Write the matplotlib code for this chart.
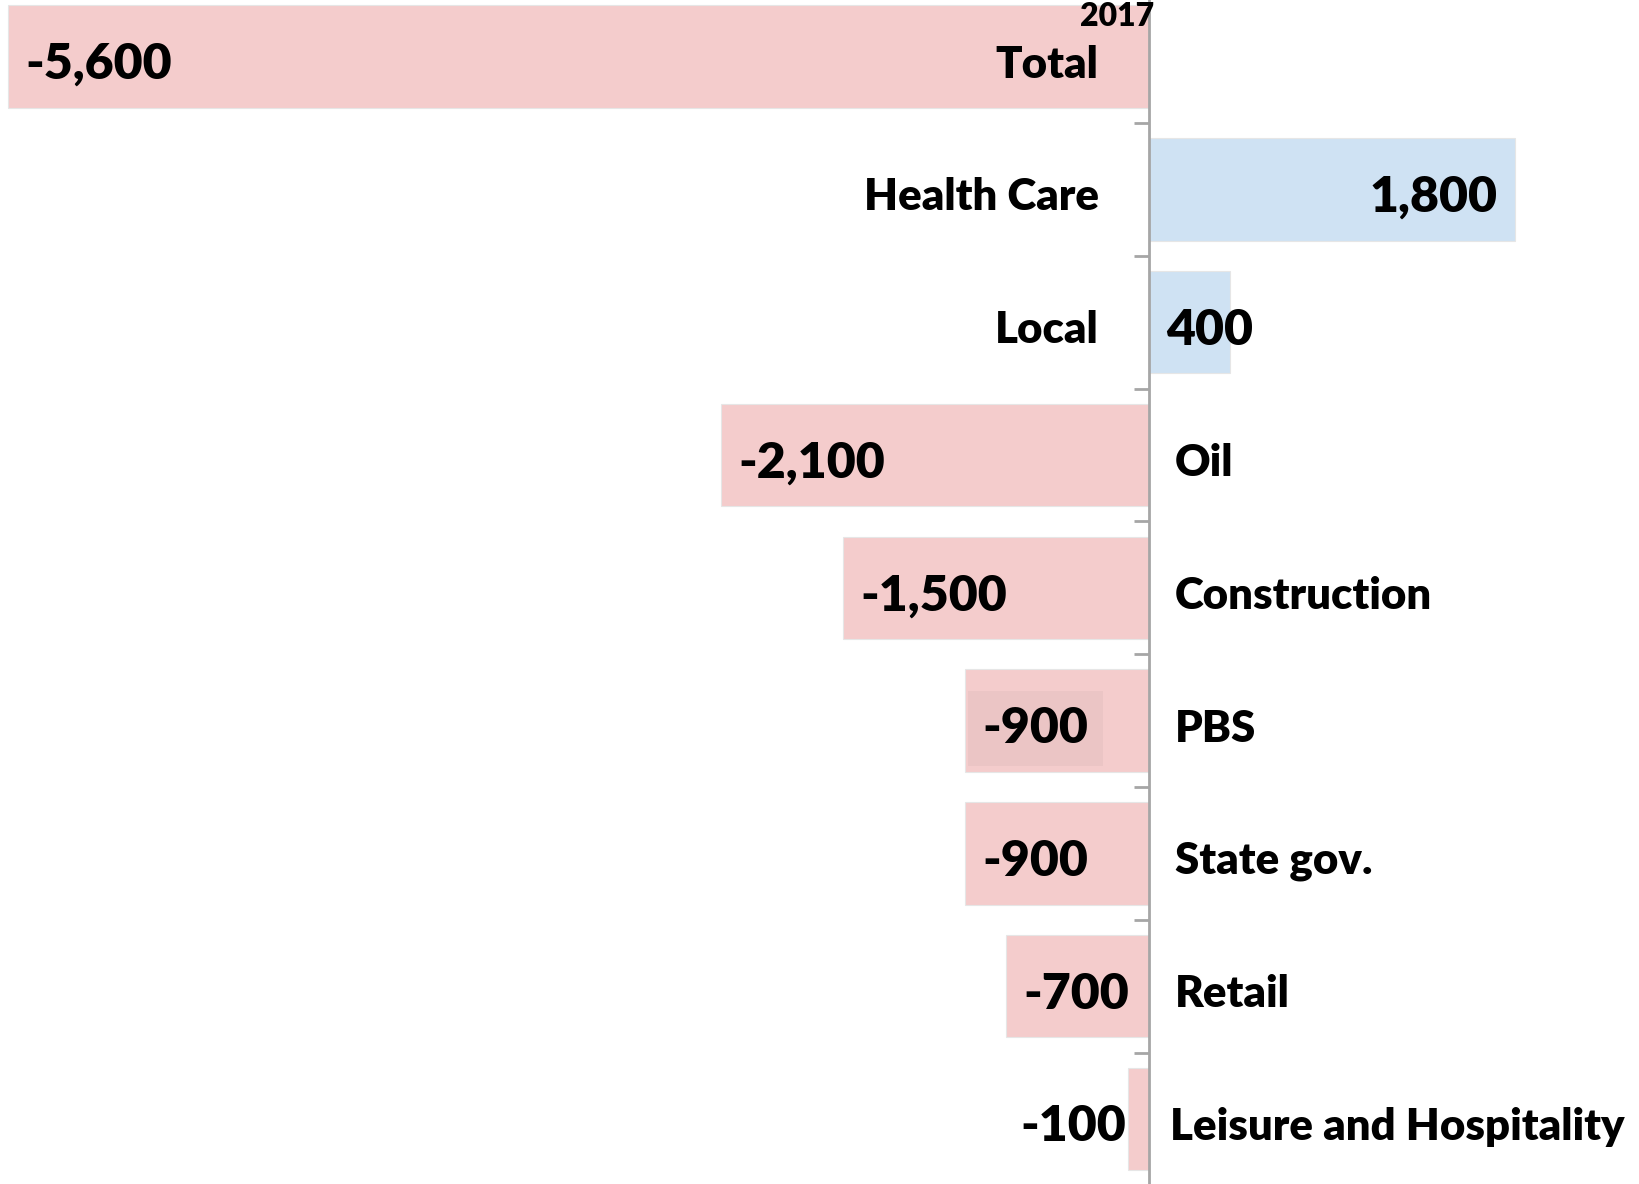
import numpy as np
from matplotlib import pyplot as plt

plt.rcParams['font.family'] = ['Lato', 'DejaVu Sans']

categories = ['Total', 'Health Care', 'Local', 'Oil', 'Construction', 'PBS',
              'State gov.', 'Retail', 'Leisure and Hospitality']
values = [-5600, 1800, 400, -2100, -1500, -900, -900, -700, -100]
value_labels = ['-5,600', '1,800', '400', '-2,100', '-1,500', '-900',
                '-900', '-700', '-100']
series_name = '2017'

pink = '#f4cccc'
blue = '#cfe2f3'
axis_grey = '#a6a6a6'

fig = plt.figure(figsize=(16.4, 11.84), dpi=100)
ax = fig.add_axes([0, -0.0012, 1, 1.0095])

y = np.arange(len(categories))
colors = [pink if v < 0 else blue for v in values]
ax.barh(y, values, height=0.77, color=colors, edgecolor='#e6e6e6', linewidth=0.8)

ax.set_xlim(-5641, 2414)
ax.set_ylim(len(categories) - 0.5, -0.5)

for s in ['top', 'right', 'bottom']:
    ax.spines[s].set_visible(False)
ax.spines['left'].set_position(('data', 0))
ax.spines['left'].set_color(axis_grey)
ax.spines['left'].set_linewidth(2)
ax.set_xticks([])
ax.set_yticks(y[:-1] + 0.5)
ax.set_yticklabels([])
ax.tick_params(axis='y', direction='out', length=11, width=2, color=axis_grey)

pad = 85
dy = 0.06  # text sits a little below bar centre
for i, (cat, v, lab) in enumerate(zip(categories, values, value_labels)):
    ty = i + dy
    # category label on the other side of the axis
    if v < 0 and i > 0:
        x0 = pad + 20 if len(cat) > 15 else pad + 45
        ax.text(x0, ty, cat, ha='left', va='center', fontsize=31.5, fontweight='heavy')
    else:
        ax.text(-pad - 160, ty, cat, ha='right', va='center', fontsize=31.5, fontweight='heavy')

    # value label
    kw = dict(va='center', fontsize=36, fontweight='heavy')
    if v < 0:
        if abs(v) < 300:
            ax.text(v - 10, ty, lab, ha='right', **kw)
        elif cat == 'PBS':
            ax.text(v + pad, ty, lab, ha='left',
                    bbox=dict(boxstyle='square,pad=0.3', fc='#ebc5c5', ec='none'), **kw)
        else:
            ax.text(v + pad, ty, lab, ha='left', **kw)
    else:
        if v < 1000:
            ax.text(pad, ty, lab, ha='left', **kw)
        else:
            ax.text(v - pad, ty, lab, ha='right', **kw)

fig.text(1117 / 1640, 1 - 26 / 1184, series_name, ha='center', va='baseline',
         fontsize=23, fontweight='heavy')

plt.savefig('out.png', dpi=100)
